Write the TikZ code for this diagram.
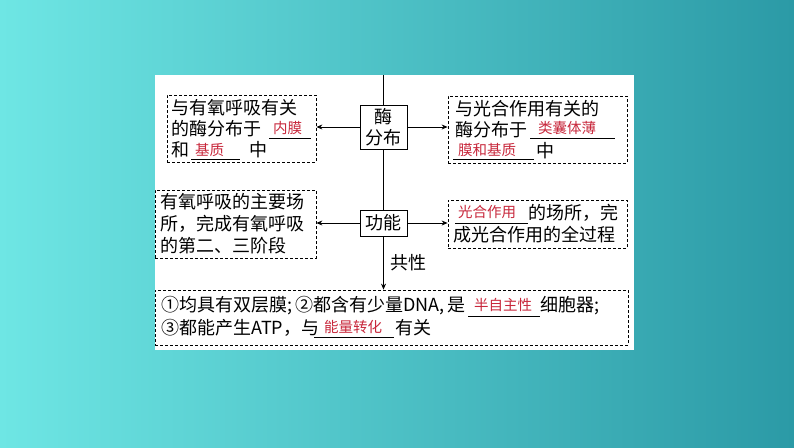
\documentclass[tikz,border=0pt]{standalone}
\usepackage{fontspec}
\setmainfont{Noto Sans CJK SC}
\usetikzlibrary{arrows.meta}
\definecolor{bgA}{HTML}{6EE6E4}
\definecolor{bgB}{HTML}{2B9AA6}
\definecolor{redt}{HTML}{C8283C}
\begin{document}
\begin{tikzpicture}[x=1pt,y=-1pt,
  t/.style={anchor=west,inner sep=0,font=\fontsize{18}{20}\selectfont},
  r/.style={anchor=west,inner sep=0,font=\fontsize{14.5}{16}\selectfont,text=redt},
  dbox/.style={draw,dashed,line width=0.8pt,dash pattern=on 3pt off 2pt},
  sbox/.style={draw,line width=0.8pt,fill=white},
  ul/.style={line width=0.7pt},
  arr/.style={line width=0.8pt,-{Stealth[length=6pt,width=5pt]}}]
\useasboundingbox (0,0) rectangle (794,447);
\shade[left color=bgA,right color=bgB] (0,0) rectangle (794,447);
\fill[white] (155,75) rectangle (634,350);
% boxes
\node[dbox,minimum width=149,minimum height=67,inner sep=0] (lt) at (241.5,128.5) {};
\node[dbox,minimum width=179,minimum height=67,inner sep=0] (rt) at (537.5,129.5) {};
\node[dbox,minimum width=161,minimum height=68,inner sep=0] (lm) at (235.5,224) {};
\node[dbox,minimum width=179,minimum height=48,inner sep=0] (rm) at (537.5,224) {};
\node[dbox,minimum width=473,minimum height=55,inner sep=0] (bt) at (391.5,317.5) {};
\coordinate (top) at (383,75);
\draw[line width=0.8pt] (top) -- (383,210);
\node[sbox,minimum width=47,minimum height=44,inner sep=0,align=center,font=\fontsize{18}{21}\selectfont] (m) at (383.5,127) {酶\\分布};
\node[sbox,minimum width=47,minimum height=26,inner sep=0,font=\fontsize{18}{20}\selectfont] (g) at (383.5,223) {功能};
\draw[arr] (m.west) -- (lt.east |- m.west);
\draw[arr] (m.east) -- (rt.west |- m.east);
\draw[arr] (g.west) -- (lm.east |- g.west);
\draw[arr] (g.east) -- (rm.west |- g.east);
\draw[arr] (g.south) -- (bt.north -| g.south) node[pos=0.5,right=3pt,font=\fontsize{18}{20}\selectfont] (gx) {共性};
% left top
\node[t] (a1) at (171,108) {与有氧呼吸有关};
\node[t] (a2) at (171,129) {的酶分布于};
\draw[ul] (269,138) -- (311,138);
\node[r] (a2r) at (273,128) {内膜};
\node[t] (a3) at (171,150) {和};
\draw[ul] (191,159) -- (240,159);
\node[r] (a3r) at (195,150) {基质};
\node[t] (a3b) at (249,150) {中};
% right top
\node[t] (b1) at (455,109) {与光合作用有关的};
\node[t] (b2) at (455,130) {酶分布于};
\draw[ul] (530,138) -- (615,138);
\node[r] (b2r) at (538,128) {类囊体薄};
\draw[ul] (453,159) -- (534,159);
\node[r] (b3r) at (458,150) {膜和基质};
\node[t] (b3) at (536,151) {中};
% left mid
\node[t] (c1) at (160,202) {有氧呼吸的主要场};
\node[t] (c2) at (160,224) {所，完成有氧呼吸};
\node[t] (c3) at (160,246) {的第二、三阶段};
% right mid
\draw[ul] (455,223) -- (528,223);
\node[r] (d1r) at (458,212) {光合作用};
\node[t] (d1) at (528,213) {的场所，完};
\node[t] (d2) at (453,235) {成光合作用的全过程};
% bottom
\node[t] (e1) at (161,306) {①均具有双层膜;\,②都含有少量DNA,\,是};
\draw[ul] (468,316) -- (540,316);
\node[r] (e1r) at (474,305) {半自主性};
\node[t] (e1b) at (540,306) {细胞器;};
\node[t] (e2) at (161,328) {③都能产生ATP，与};
\draw[ul] (314,337) -- (394,337);
\node[r] (e2r) at (324,327) {能量转化};
\node[t] (e2b) at (395,328) {有关};
\end{tikzpicture}
\end{document}
